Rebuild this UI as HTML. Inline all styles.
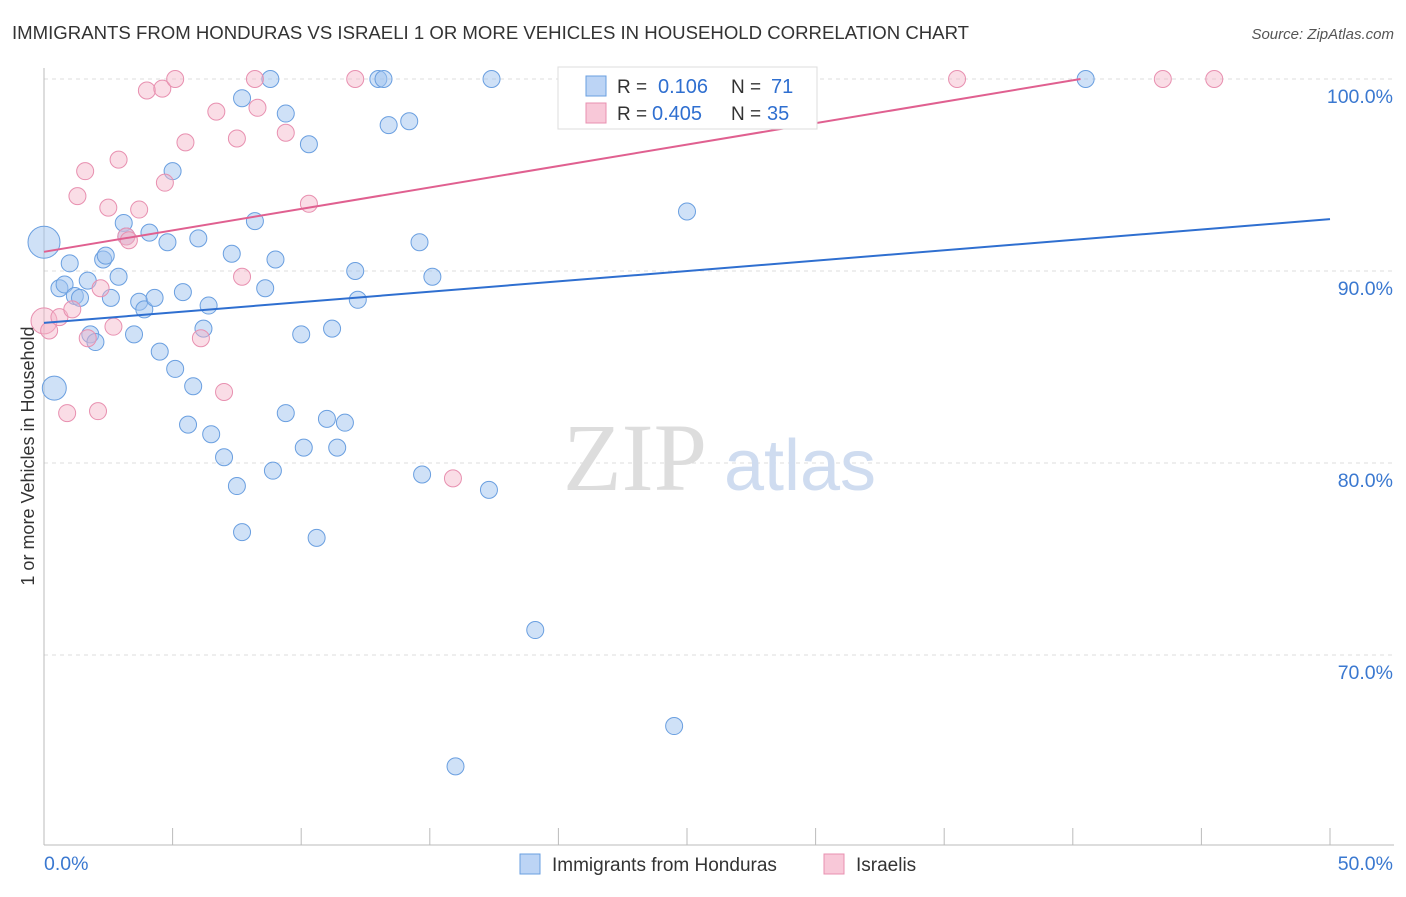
<!DOCTYPE html>
<html><head><meta charset="utf-8"><style>
body{margin:0;background:#fff;font-family:"Liberation Sans",sans-serif;}
</style></head><body>
<svg id="chart" width="1406" height="892" xmlns="http://www.w3.org/2000/svg" style="font-family:'Liberation Sans',sans-serif">
<text x="12" y="39" font-size="18.6" fill="#333">IMMIGRANTS FROM HONDURAS VS ISRAELI 1 OR MORE VEHICLES IN HOUSEHOLD CORRELATION CHART</text>
<text x="1394" y="39" font-size="15" fill="#555" text-anchor="end" font-style="italic">Source: ZipAtlas.com</text>
<g id="grid"></g>
<g><text x="635" y="490" font-size="96" fill="#ddd" font-family="Liberation Serif,serif" text-anchor="middle">ZIP</text><text x="800" y="490" font-size="72" fill="#cfdcf0" text-anchor="middle">atlas</text></g>
<text transform="translate(34,456) rotate(-90)" font-size="18" fill="#333" text-anchor="middle">1 or more Vehicles in Household</text>
<g id="pts"></g>
<g id="lines"></g>
<g>
<rect x="558" y="67" width="259" height="62" fill="#fff" stroke="#ddd"/>
<rect x="586" y="76" width="20" height="20" fill="#bcd4f5" stroke="#6a9fe0"/>
<rect x="586" y="103" width="20" height="20" fill="#f8c8d8" stroke="#e890b0"/>
<text x="617" y="93" font-size="19" fill="#333">R =</text>
<text x="658" y="93" font-size="20" fill="#2f6fd0">0.106</text>
<text x="731" y="93" font-size="19" fill="#333">N =</text>
<text x="771" y="93" font-size="20" fill="#2f6fd0">71</text>
<text x="617" y="120" font-size="19" fill="#333">R =</text>
<text x="652" y="120" font-size="20" fill="#2f6fd0">0.405</text>
<text x="731" y="120" font-size="19" fill="#333">N =</text>
<text x="767" y="120" font-size="20" fill="#2f6fd0">35</text>
</g>
<g>
<rect x="520" y="854" width="20" height="20" fill="#bcd4f5" stroke="#6a9fe0"/>
<text x="552" y="871" font-size="19" fill="#333">Immigrants from Honduras</text>
<rect x="824" y="854" width="20" height="20" fill="#f8c8d8" stroke="#e890b0"/>
<text x="856" y="871" font-size="19" fill="#333">Israelis</text>
</g>
</svg>
<script>
const yTicks=[100,90,80,70];
const yTickLabels=["100.0%","90.0%","80.0%","70.0%"];
const xTickLabels=["0.0%","50.0%"];
const blueX=[0.0,0.4,0.6,0.8,1.0,1.2,1.4,1.7,1.8,2.0,2.3,2.4,2.6,2.9,3.1,3.2,3.5,3.7,3.9,4.1,4.3,4.5,4.8,5.0,5.1,5.4,5.6,5.8,6.0,6.2,6.4,6.5,7.0,7.3,7.5,7.7,7.7,8.2,8.6,8.8,8.9,9.0,9.4,9.4,10.0,10.1,10.3,10.6,11.0,11.2,11.4,11.7,12.1,12.2,13.0,13.2,13.4,14.2,14.6,14.7,15.1,16.0,17.3,17.4,19.1,23.8,24.5,25.0,28.2,40.5];
const blueY=[91.5,83.9,89.1,89.3,90.4,88.7,88.6,89.5,86.7,86.3,90.6,90.8,88.6,89.7,92.5,91.8,86.7,88.4,88.0,92.0,88.6,85.8,91.5,95.2,84.9,88.9,82.0,84.0,91.7,87.0,88.2,81.5,80.3,90.9,78.8,99.0,76.4,92.6,89.1,100,79.6,90.6,82.6,98.2,86.7,80.8,96.6,76.1,82.3,87.0,80.8,82.1,90.0,88.5,100,100,97.6,97.8,91.5,79.4,89.7,64.2,78.6,100,71.3,100,66.3,93.1,100,100];
const pinkX=[0.0,0.2,0.6,0.9,1.1,1.3,1.6,1.7,2.1,2.2,2.5,2.7,2.9,3.2,3.3,3.7,4.0,4.6,4.7,5.1,5.5,6.1,6.7,7.0,7.5,7.7,8.2,8.3,9.4,10.3,12.1,15.9,35.5,43.5,45.5];
const pinkY=[87.4,86.9,87.6,82.6,88.0,93.9,95.2,86.5,82.7,89.1,93.3,87.1,95.8,91.8,91.6,93.2,99.4,99.5,94.6,100,96.7,86.5,98.3,83.7,96.9,89.7,100,98.5,97.2,93.5,100,79.2,100,100,100];
const blueLine=[[0,87.3],[50,92.7]];
const pinkLine=[[0,91.0],[40.3,100]];
const NS="http://www.w3.org/2000/svg";
const X=v=>44+v*25.72, Y=v=>79+(100-v)*19.2;
function mk(t,a,p){const e=document.createElementNS(NS,t);for(const k in a)e.setAttribute(k,a[k]);p.appendChild(e);return e;}
const g=document.getElementById('grid');
yTicks.forEach((t,i)=>{
 const l=mk('line',{x1:44,x2:1394,y1:Y(t),y2:Y(t),stroke:'#ddd','stroke-dasharray':'4,4'},g);
 
 
 const tx=mk('text',{x:1393,y:Y(t)+24,'font-size':19.5,fill:'#3a78d0','text-anchor':'end'},g);tx.textContent=yTickLabels[i];
 
 
});
const ax=mk('line',{x1:44,x2:44,y1:68,y2:845,stroke:'#bbb'},g);


const bx=mk('line',{x1:44,x2:1394,y1:845,y2:845,stroke:'#bbb'},g);


for(let i=0;i<=10;i++){const t=mk('line',{x1:X(i*5),x2:X(i*5),y1:828,y2:845,stroke:'#bbb'},g);
 
 }
[[0,'start',44],[50,'end',1393]].forEach((d,i)=>{const t=mk('text',{x:d[2],y:870,'font-size':19.5,fill:'#3a78d0','text-anchor':d[1]},g);t.textContent=xTickLabels[i];
 
 });
const p=document.getElementById('pts');
function pts(xs,ys,fill,stroke,name){xs.forEach((x,i)=>{const r=(x===0)?(name==='blue-point'&&i===0?16:13):(name==='blue-point'&&i===1?12:8.5);
 const c=mk('circle',{cx:X(x),cy:Y(ys[i]),r:r,fill:fill,stroke:stroke,'stroke-width':1},p);
 
 });}
pts(blueX,blueY,'rgba(160,195,240,0.5)','#6a9fe0','blue-point');
pts(pinkX,pinkY,'rgba(245,180,200,0.45)','#e890b0','pink-point');
const L=document.getElementById('lines');
const bl=mk('line',{x1:X(blueLine[0][0]),y1:Y(blueLine[0][1]),x2:X(blueLine[1][0]),y2:Y(blueLine[1][1]),stroke:'#2f6fd0','stroke-width':2},L);


const pl=mk('line',{x1:X(pinkLine[0][0]),y1:Y(pinkLine[0][1]),x2:X(pinkLine[1][0]),y2:Y(pinkLine[1][1]),stroke:'#e06090','stroke-width':2},L);


</script>
</body></html>
